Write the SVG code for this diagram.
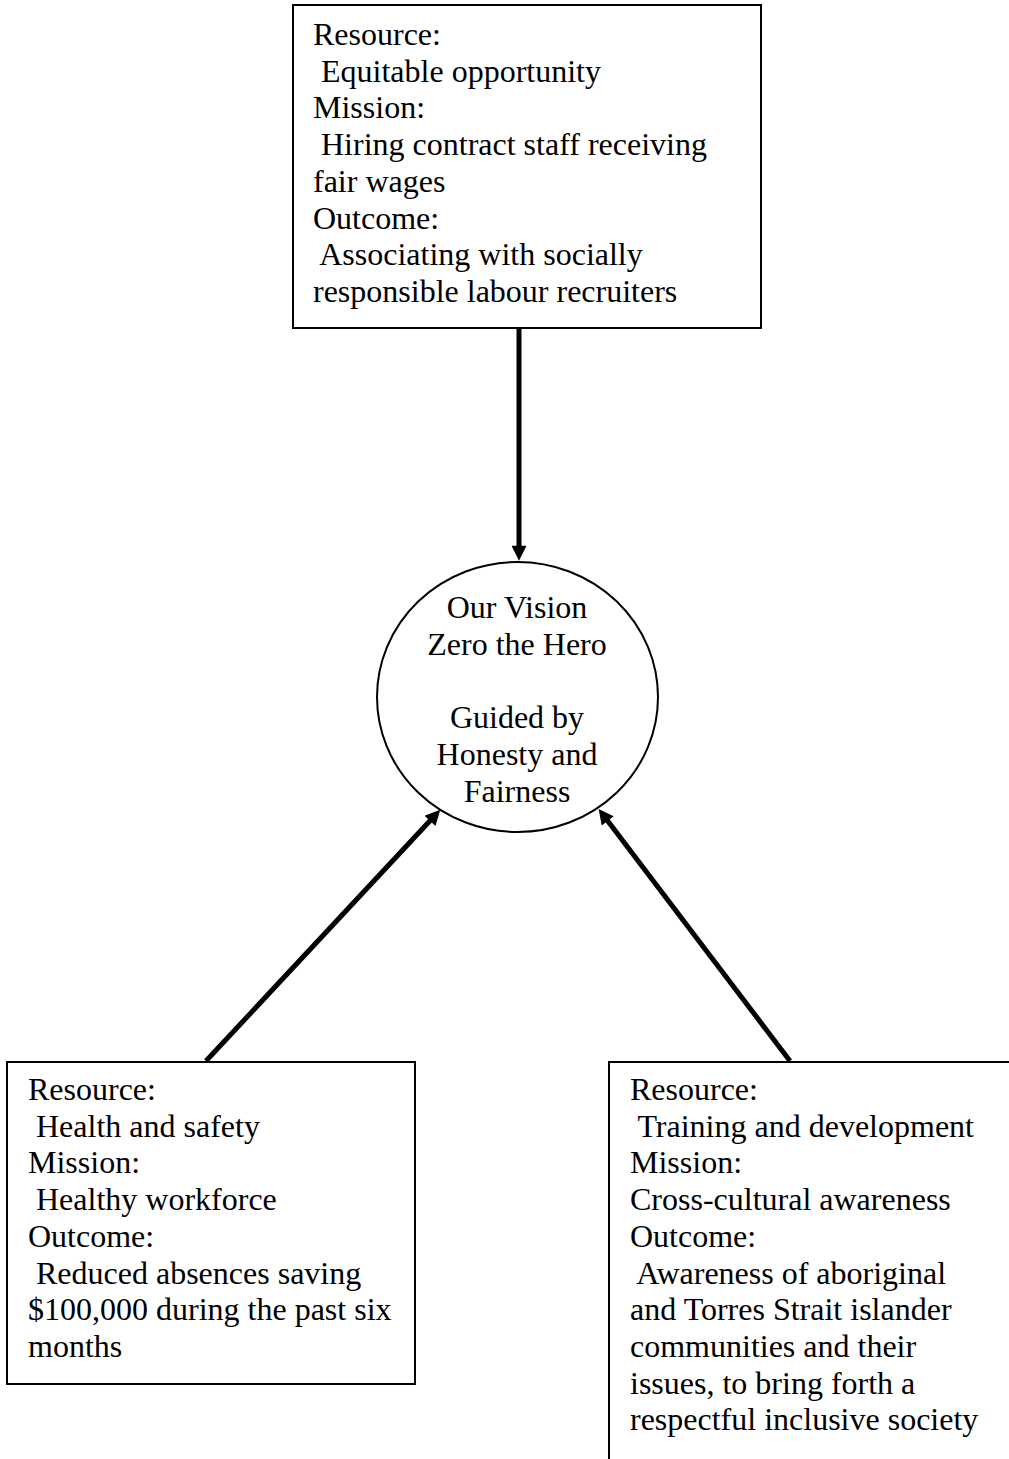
<svg xmlns="http://www.w3.org/2000/svg" width="1009" height="1459" viewBox="0 0 1009 1459">
<style>
.box{fill:#fff;stroke:#000;stroke-width:2}
.conn{stroke:#000;stroke-width:5;fill:none}
</style>
<defs>
<marker id="ah" viewBox="0 0 10 10" refX="4.1" refY="5" markerWidth="17" markerHeight="15" orient="auto" markerUnits="userSpaceOnUse">
<path d="M0,0 L10,5 L0,10 Z" fill="#000"/>
</marker>
</defs>
<rect width="1009" height="1459" fill="#fff"/>
<g id="connectors">
<line class="conn" x1="519" y1="329" x2="519" y2="552" marker-end="url(#ah)"/>
<line class="conn" x1="206" y1="1061" x2="434.2" y2="816.3" marker-end="url(#ah)"/>
<line class="conn" x1="790" y1="1061" x2="604" y2="816" marker-end="url(#ah)"/>
</g>
<g id="top">
<rect class="box" x="293" y="5" width="468" height="323"/>
<text font-family="Liberation Serif, Times New Roman, serif" font-size="32" fill="#000" xml:space="preserve"><tspan x="313" y="45">Resource:</tspan><tspan x="313" y="81.7"> Equitable opportunity</tspan><tspan x="313" y="118.4">Mission:</tspan><tspan x="313" y="155"> Hiring contract staff receiving</tspan><tspan x="313" y="191.8">fair wages</tspan><tspan x="313" y="228.5">Outcome:</tspan><tspan x="313" y="265"> Associating with socially</tspan><tspan x="313" y="302">responsible labour recruiters</tspan></text>
</g>
<g id="vision">
<ellipse cx="517.5" cy="697" rx="140.5" ry="135" fill="#fff" stroke="#000" stroke-width="2"/>
<text font-family="Liberation Serif, Times New Roman, serif" font-size="32" fill="#000" text-anchor="middle"><tspan x="517" y="618">Our Vision</tspan><tspan x="517" y="654.5">Zero the Hero</tspan><tspan x="517" y="728">Guided by</tspan><tspan x="517" y="764.5">Honesty and</tspan><tspan x="517" y="801.5">Fairness</tspan></text>
</g>
<g id="left">
<rect class="box" x="7" y="1062" width="408" height="322"/>
<text font-family="Liberation Serif, Times New Roman, serif" font-size="32" fill="#000" xml:space="preserve"><tspan x="28" y="1100">Resource:</tspan><tspan x="28" y="1136.7"> Health and safety</tspan><tspan x="28" y="1173.4">Mission:</tspan><tspan x="28" y="1210"> Healthy workforce</tspan><tspan x="28" y="1246.8">Outcome:</tspan><tspan x="28" y="1283.5"> Reduced absences saving</tspan><tspan x="28" y="1320">$100,000 during the past six</tspan><tspan x="28" y="1357">months</tspan></text>
</g>
<g id="right">
<rect class="box" x="609" y="1062" width="420" height="420"/>
<text font-family="Liberation Serif, Times New Roman, serif" font-size="32" fill="#000" xml:space="preserve"><tspan x="630" y="1100">Resource:</tspan><tspan x="630" y="1136.7"> Training and development</tspan><tspan x="630" y="1173.4">Mission:</tspan><tspan x="630" y="1210">Cross-cultural awareness</tspan><tspan x="630" y="1246.8">Outcome:</tspan><tspan x="630" y="1283.5"> Awareness of aboriginal</tspan><tspan x="630" y="1320">and Torres Strait islander</tspan><tspan x="630" y="1357">communities and their</tspan><tspan x="630" y="1393.5">issues, to bring forth a</tspan><tspan x="630" y="1430">respectful inclusive society</tspan></text>
</g>
</svg>
